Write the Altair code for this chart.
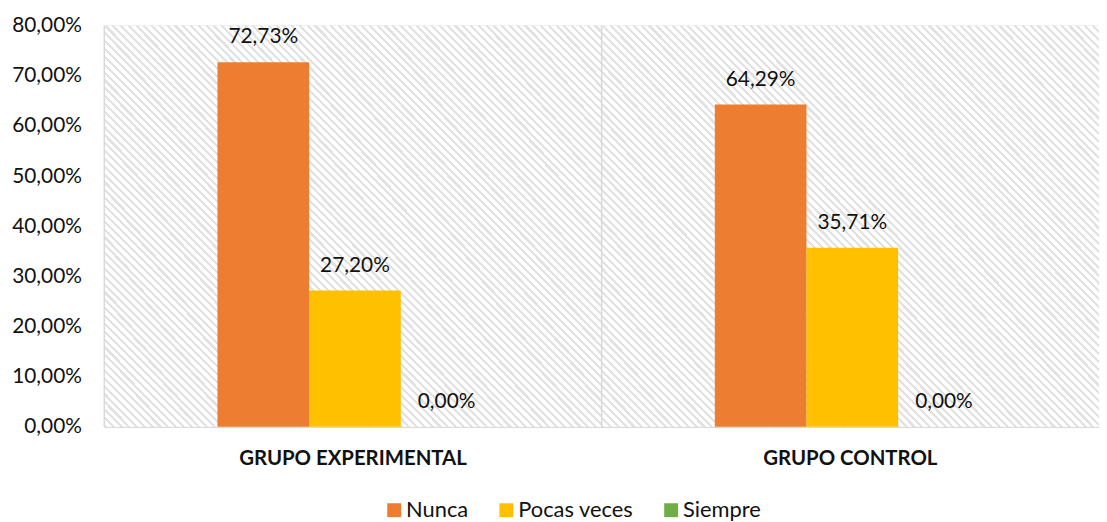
import altair as alt
import pandas as pd

categories = ["GRUPO EXPERIMENTAL", "GRUPO CONTROL"]
series = ["Nunca", "Pocas veces", "Siempre"]
nunca = [72.73, 64.29]
pocas = [27.20, 35.71]
siempre = [0.00, 0.00]
colors = ["#ED7D31", "#FFC000", "#70AD47"]
y_ticks = [0, 10, 20, 30, 40, 50, 60, 70, 80]

rows = []
for i, c in enumerate(categories):
    for s, vals in zip(series, [nunca, pocas, siempre]):
        rows.append({"cat": c, "serie": s, "val": vals[i]})
df = pd.DataFrame(rows)
div_df = pd.DataFrame({"cat": categories})

# hatch-like background made with a striped gradient (style only)
n_stripes = 115
stops = []
for k in range(n_stripes):
    a = k / n_stripes
    b = (k + 0.4) / n_stripes
    c2 = (k + 1) / n_stripes
    stops += [
        {"offset": a, "color": "#e2e2e2"},
        {"offset": b, "color": "#e2e2e2"},
        {"offset": b, "color": "#ffffff"},
        {"offset": c2, "color": "#ffffff"},
    ]
hatch = {"gradient": "linear", "x1": 0, "y1": 1, "x2": 1.098, "y2": 0.123, "stops": stops}

FONT = "Lato"
TXT = "#111111"


def xscale():
    return alt.Scale(domain=categories, paddingInner=0, paddingOuter=0)


x_enc = alt.X("cat:N", sort=categories, title=None, scale=xscale(),
              axis=alt.Axis(labelAngle=0, labelFontWeight="bold", labelFontSize=20.5,
                            labelPadding=32, ticks=False, domain=False, grid=False,
                            bandPosition=0.5, labelLimit=500, labelAlign="center",
                            labelColor=TXT, labelFont=FONT))
xo_enc = alt.XOffset("serie:N", sort=series,
                     scale=alt.Scale(paddingInner=0, paddingOuter=0, range=[114, 391]))
y_enc = alt.Y("val:Q", title=None,
              scale=alt.Scale(domain=[0, 80], nice=False),
              axis=alt.Axis(values=y_ticks, labelExpr="replace(format(datum.value, '.2f'), '.', ',') + '%'",
                            ticks=False, domain=False, grid=True, gridColor="#d9d9d9",
                            gridWidth=1.5, labelFontSize=21, labelPadding=23,
                            labelColor=TXT, labelFont=FONT))

base = alt.Chart(df)

background = alt.Chart(div_df).mark_rect(fill=hatch).encode(
    x=alt.X("cat:N", sort=categories, scale=xscale()),
    y=alt.datum(0),
    y2=alt.datum(80),
)

bars = base.mark_bar().encode(
    x=x_enc,
    xOffset=xo_enc,
    y=y_enc,
    color=alt.Color("serie:N", sort=series,
                    scale=alt.Scale(domain=series, range=colors),
                    legend=alt.Legend(title=None, orient="none", legendX=281, legendY=477,
                                      direction="horizontal", symbolType="square",
                                      symbolSize=196, symbolStrokeWidth=0,
                                      labelFontSize=22, labelFont=FONT, labelColor=TXT,
                                      columnPadding=27, labelOffset=1)),
)

labels = base.mark_text(baseline="middle", dy=-25, fontSize=21, font=FONT, color=TXT).encode(
    x=alt.X("cat:N", sort=categories, scale=xscale()),
    xOffset=alt.XOffset("serie:N", sort=series),
    y=alt.Y("val:Q"),
    text=alt.Text("lbl:N"),
).transform_calculate(lbl="replace(format(datum.val, '.2f'), '.', ',') + '%'")

divider = alt.Chart(div_df).mark_rule(color="#d9d9d9", strokeWidth=1.5).encode(
    x=alt.X("cat:N", sort=categories, bandPosition=0, scale=xscale())
)

chart = alt.layer(background, divider, bars, labels).properties(
    width=1002, height=404,
    autosize=alt.AutoSizeParams(type="none"),
    padding={"left": 97, "top": 16, "right": 0, "bottom": 94},
).configure_view(
    stroke=None
)

chart.save("out.html", embed_options={"renderer": "svg", "actions": False})
